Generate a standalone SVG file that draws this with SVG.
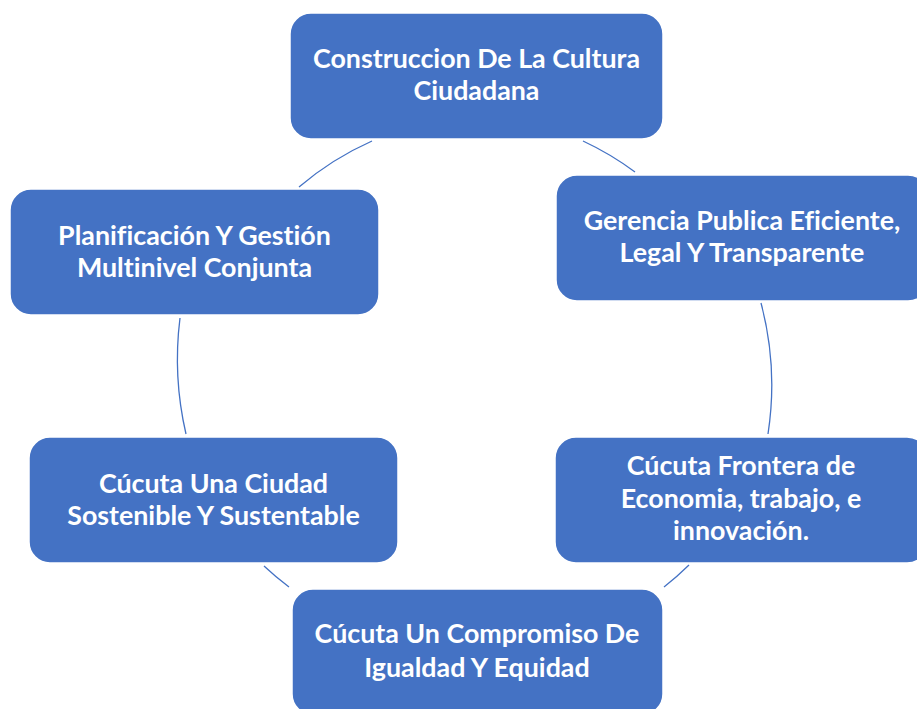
<svg xmlns="http://www.w3.org/2000/svg" width="917" height="709" viewBox="0 0 917 709">
<style>
.box{fill:#4472C4;stroke:#ffffff;stroke-width:1.5}
.lbl{font-family:Lato,"Liberation Sans",sans-serif;font-weight:bold;font-size:26.8px;fill:#ffffff;text-anchor:middle;font-variant-ligatures:none}
.arc{fill:none;stroke:#4472C4;stroke-width:1.3}
</style>
<rect width="917" height="709" fill="#ffffff"/>
<g id="connectors">
<path class="arc" d="M583,141 A300,300 0 0 1 635,172"/>
<path class="arc" d="M761,303 A320,320 0 0 1 768,434"/>
<path class="arc" d="M689,565 A300,300 0 0 1 664,587"/>
<path class="arc" d="M289,587 A300,300 0 0 1 264,566"/>
<path class="arc" d="M186,434 A330,330 0 0 1 180,318"/>
<path class="arc" d="M299,187 A300,300 0 0 1 372,141"/>
</g>
<g id="node-cultura">
<rect class="box" x="290" y="13" width="373" height="126" rx="21"/>
<text class="lbl" x="476.5" y="68">Construccion De La Cultura</text>
<text class="lbl" x="476.5" y="100">Ciudadana</text>
</g>
<g id="node-gerencia">
<rect class="box" x="556" y="175" width="373" height="126" rx="21"/>
<text class="lbl" x="742" y="230">Gerencia Publica Eficiente,</text>
<text class="lbl" x="742" y="262">Legal Y Transparente</text>
</g>
<g id="node-frontera">
<rect class="box" x="555" y="437" width="373" height="126" rx="21"/>
<text class="lbl" x="741" y="475">Cúcuta Frontera de</text>
<text class="lbl" x="741" y="508">Economia, trabajo, e</text>
<text class="lbl" x="741" y="540">innovación.</text>
</g>
<g id="node-igualdad">
<rect class="box" x="292" y="589" width="371" height="126" rx="21"/>
<text class="lbl" x="477" y="643">Cúcuta Un Compromiso De</text>
<text class="lbl" x="477" y="677">Igualdad Y Equidad</text>
</g>
<g id="node-sostenible">
<rect class="box" x="29" y="437" width="369" height="126" rx="21"/>
<text class="lbl" x="213.5" y="493">Cúcuta Una Ciudad</text>
<text class="lbl" x="213.5" y="525">Sostenible Y Sustentable</text>
</g>
<g id="node-planificacion">
<rect class="box" x="10" y="189" width="369" height="126" rx="21"/>
<text class="lbl" x="194.5" y="245">Planificación Y Gestión</text>
<text class="lbl" x="194.5" y="277">Multinivel Conjunta</text>
</g>
</svg>
